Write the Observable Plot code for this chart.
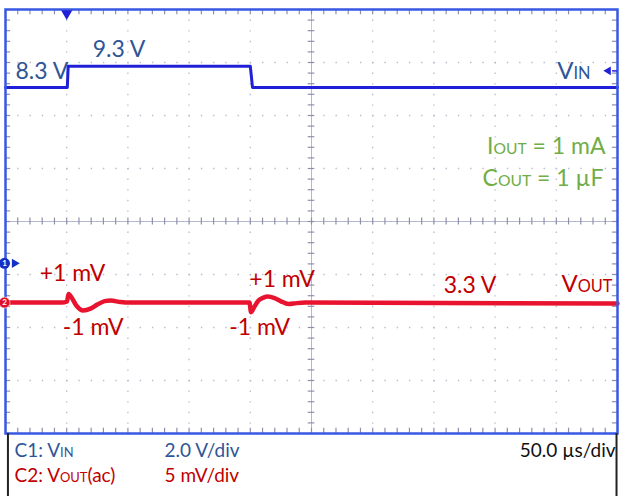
<!DOCTYPE html>
<html><head><meta charset="utf-8">
<script src="https://cdn.jsdelivr.net/npm/d3@7"></script>
<script src="https://cdn.jsdelivr.net/npm/@observablehq/plot@0.6"></script>
<style>html,body{margin:0;padding:0;background:#fff;}</style>
</head><body><div id="chart"></div>
<script>
// ---- data (read from the scope capture) ----
const vinTime = [-50, 0.5, 1.2, 150, 151.8, 450];            // µs
const vinVolts = [8.3, 8.3, 9.3, 9.3, 8.3, 8.3];               // V
const voutTime = [-50, -4, 0.2, 1.5, 3, 8, 13.5, 19.5, 25, 31, 36, 44, 52,
                  149.3, 150.6, 153.4, 156.7, 160.8, 164.1, 169.8, 174.7, 181.2, 187.8, 195, 450]; // µs
const voutMilliVolts = [0, 0, 0.1, 0.8, 0.65, -0.3, -0.75, -0.57, -0.19, 0.14, 0.19, 0.05, 0,
                        0, -0.9, -0.38, 0.19, 0.47, 0.57, 0.42, 0.14, -0.14, -0.05, 0, -0.08]; // mV (ac)
const ch1GroundDiv = -0.79, ch1DivPerVolt = 0.4;
const ch2GroundDiv = -1.53, ch2DivPerMilliVolt = 0.2;
const triggerTimeUs = 0, triggerLevelV = 9.08;
const timeDomain = [-50, 450];   // 10 div × 50 µs
const divDomain = [-4, 4];       // 8 div
const vinLow = 8.3, vinHigh = 9.3, voutDC = 3.3;

// ---- derived ----
const d1 = v => ch1GroundDiv + v * ch1DivPerVolt;
const d2 = mv => ch2GroundDiv + mv * ch2DivPerMilliVolt;
const vin = vinTime.map((t, i) => ({t, y: d1(vinVolts[i])}));
const vout = voutTime.map((t, i) => ({t, y: d2(voutMilliVolts[i])}));
const majorT = d3.range(0, 401, 50);
const minorT = d3.range(-50, 450.01, 10);
const majorD = [-3, -2, -1, 1, 2, 3];
const minorD = d3.range(-4, 4.001, 0.2);

const blueText = "#2f5597", redText = "#c00000", green = "#70ad47";
const vinColor = "#2020d8", voutColor = "#e8132e";
const grid = "#b9bccb", tick = "#8d90ab", frameBlue = "#3858e4";
const big = 23, small = 19;

const chart = Plot.plot({
  width: 623, height: 496,
  marginLeft: 5, marginRight: 6, marginTop: 9, marginBottom: 63,
  x: {domain: timeDomain, axis: null},
  y: {domain: divDomain, axis: null},
  style: {fontFamily: "Lato, sans-serif", background: "white", overflow: "visible"},
  marks: [
    // dotted graticule
    Plot.ruleY(majorD, {stroke: grid, strokeWidth: 1.3, strokeDasharray: "1.4,10.84"}),
    Plot.ruleX(majorT.filter(t => t !== 200), {stroke: grid, strokeWidth: 1.3, strokeDasharray: "1.4,9.2"}),
    // centre axes
    Plot.ruleY([0], {stroke: "#b4b8cc", strokeWidth: 1}),
    Plot.ruleX([200], {stroke: "#b4b8cc", strokeWidth: 1}),
    Plot.ruleX(minorT, {y1: -0.065, y2: 0.065, stroke: tick, strokeWidth: 1.2}),
    Plot.ruleY(minorD, {x1: 197.3, x2: 202.7, stroke: tick, strokeWidth: 1.2}),
    // border ticks
    Plot.ruleX(minorT, {y1: 4, y2: 3.9, stroke: tick, strokeWidth: 1.2}),
    Plot.ruleX(minorT, {y1: -4, y2: -3.9, stroke: tick, strokeWidth: 1.2}),
    Plot.ruleY(minorD, {x1: -50, x2: -45.8, stroke: tick, strokeWidth: 1.2}),
    Plot.ruleY(minorD, {x1: 450, x2: 445.8, stroke: tick, strokeWidth: 1.2}),
    // traces
    Plot.line(vin, {x: "t", y: "y", stroke: vinColor, strokeWidth: 3}),
    Plot.line(vout, {x: "t", y: "y", stroke: voutColor, strokeWidth: 4.5, curve: "monotone-x"}),
    // frame
    Plot.frame({stroke: frameBlue, strokeWidth: 2.5}),
    // info box sides
    Plot.ruleX([-48], {y1: -4, y2: -5.3, stroke: "#222", strokeWidth: 2}),
    Plot.ruleX([449.2], {y1: -4, y2: -5.3, stroke: "#222", strokeWidth: 2}),
    // trigger position marker
    Plot.dot([triggerTimeUs], {x: d => d, y: 4, dy: 4, symbol: "triangle", rotate: 180, r: 4.2, fill: vinColor, stroke: null}),
    // trigger level marker
    Plot.ruleY([d1(triggerLevelV)], {x1: 446, x2: 450, stroke: vinColor, strokeWidth: 1.5}),
    Plot.dot([d1(triggerLevelV)], {x: 442.5, y: d => d, symbol: "triangle", rotate: -90, r: 3.2, fill: vinColor, stroke: null}),
    // channel ground markers
    Plot.dot([d1(0)], {x: -50, y: d => d, dx: 9, symbol: "triangle", rotate: 90, r: 3.4, fill: "#1530c8", stroke: null}),
    Plot.dot([d1(0)], {x: -50, y: d => d, dx: -1, r: 5.5, fill: "#1530c8", stroke: null}),
    Plot.text(["1"], {x: -50, y: d1(0), dx: -1, fill: "white", fontSize: 8, fontWeight: "bold"}),
    Plot.dot([d2(0)], {x: -50, y: d => d, dx: -1, r: 5.5, fill: "#e0102a", stroke: "#fff", strokeWidth: 0.6}),
    Plot.text(["2"], {x: -50, y: d2(0), dx: -1, fill: "white", fontSize: 8, fontWeight: "bold"}),
    // VIN annotations
    Plot.text([`${vinLow} V`], {x: -50, y: d1(vinLow), dx: 10, dy: -16, textAnchor: "start", fill: blueText, fontSize: big}),
    Plot.text([`${vinHigh} V`], {x: triggerTimeUs, y: d1(vinHigh), dx: 26, dy: -17, textAnchor: "start", fill: blueText, fontSize: big}),
    Plot.text(["V_{IN}"], {x: 450, y: d1(vinLow), dx: -27, dy: -16, textAnchor: "end", fill: blueText, fontSize: 24}),
    // conditions
    Plot.text(["I_{OUT} = 1 mA"], {frameAnchor: "top-right", lineAnchor: "middle", dx: -12, dy: 137, textAnchor: "end", fill: green, fontSize: big}),
    Plot.text(["C_{OUT} = 1 µF"], {frameAnchor: "top-right", lineAnchor: "middle", dx: -14, dy: 169, textAnchor: "end", fill: green, fontSize: big}),
    // VOUT annotations
    Plot.text(["+1 mV"], {x: 0, y: d2(0), dx: -27, dy: -29, textAnchor: "start", fill: redText, fontSize: big}),
    Plot.text(["-1 mV"], {x: 0, y: d2(0), dx: -4, dy: 25, textAnchor: "start", fill: redText, fontSize: big}),
    Plot.text(["+1 mV"], {x: 150, y: d2(0), dx: -1, dy: -23, textAnchor: "start", fill: redText, fontSize: big}),
    Plot.text(["-1 mV"], {x: 150, y: d2(0), dx: -21, dy: 25, textAnchor: "start", fill: redText, fontSize: big}),
    Plot.text([`${voutDC} V`], {x: 308, y: d2(0), dy: -17, textAnchor: "start", fill: redText, fontSize: big}),
    Plot.text(["V_{OUT}"], {x: 450, y: d2(0), dx: -5, dy: -18, textAnchor: "end", fill: redText, fontSize: 24}),
    // info box text
    Plot.text(["C1: V_{IN}"], {frameAnchor: "bottom-left", lineAnchor: "middle", dx: 9, dy: 17, textAnchor: "start", fill: blueText, fontSize: small}),
    Plot.text(["2.0 V/div"], {frameAnchor: "bottom-left", lineAnchor: "middle", dx: 159, dy: 17, textAnchor: "start", fill: blueText, fontSize: small}),
    Plot.text(["50.0 µs/div"], {frameAnchor: "bottom-right", lineAnchor: "middle", dx: -2, dy: 17, textAnchor: "end", fill: "#111", fontSize: small}),
    Plot.text(["C2: V_{OUT}(ac)"], {frameAnchor: "bottom-left", lineAnchor: "middle", dx: 9, dy: 42, textAnchor: "start", fill: redText, fontSize: small}),
    Plot.text(["5 mV/div"], {frameAnchor: "bottom-left", lineAnchor: "middle", dx: 159, dy: 42, textAnchor: "start", fill: redText, fontSize: small})
  ]
});

// small-caps style suffixes: "V_{IN}" -> V + smaller "IN"
d3.select(chart).selectAll("text").each(function() {
  const t = this.textContent;
  if (!t.includes("_{")) return;
  const sel = d3.select(this);
  sel.text(null);
  for (const p of t.split(/(_\{[^}]*\})/)) {
    if (!p) continue;
    if (p.startsWith("_{")) sel.append("tspan").attr("font-size", "68%").text(p.slice(2, -1));
    else sel.append("tspan").text(p);
  }
});
document.getElementById("chart").append(chart);
</script></body></html>
